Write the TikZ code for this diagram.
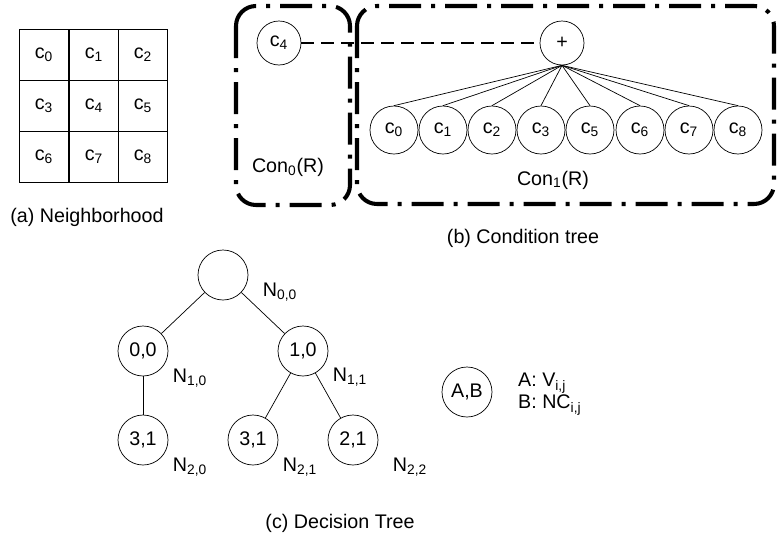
\documentclass[tikz,border=0pt]{standalone}
\usepackage{fontspec}
\setmainfont{Liberation Sans}
\usepackage{tikz}
\usetikzlibrary{positioning}

\begin{document}
\begin{tikzpicture}[x=0.2mm, y=-0.2mm,
          font=\fontsize{11.2}{13}\selectfont,
          cell/.style={draw, line width=0.5pt, shape=rectangle, minimum width=9.94mm, minimum height=10.2mm, inner sep=0pt},
          cnode/.style={draw, thin, shape=circle, minimum size=9.6mm, inner sep=0pt},
          snode/.style={draw, thin, shape=circle, minimum size=8.8mm, inner sep=0pt},
          dnode/.style={draw, thin, shape=circle, minimum size=10mm, inner sep=0pt},
          groupbox/.style={line width=2.3pt, rounded corners=4mm, dash pattern=on 6.4mm off 2mm on 0.8mm off 2mm},
          linkline/.style={line width=1.6pt, dash pattern=on 2.6mm off 1.4mm},
          treeedge/.style={thin}
        ]
          \useasboundingbox (0,0) rectangle (777,543);

          % (a) neighborhood
          \node[cell] (g0) at (44, 55) {c\textsubscript{0}};
          \node[cell] (g1) at (94, 55) {c\textsubscript{1}};
          \node[cell] (g2) at (143, 55) {c\textsubscript{2}};
          \node[cell] (g3) at (44, 106) {c\textsubscript{3}};
          \node[cell] (g4) at (94, 106) {c\textsubscript{4}};
          \node[cell] (g5) at (143, 106) {c\textsubscript{5}};
          \node[cell] (g6) at (44, 157) {c\textsubscript{6}};
          \node[cell] (g7) at (94, 157) {c\textsubscript{7}};
          \node[cell] (g8) at (143, 157) {c\textsubscript{8}};
          \node (capa) at (87, 217) {(a) Neighborhood};

          % (b) condition tree
          \draw[groupbox] (236, 6) rectangle (350, 205);
          \draw[groupbox] (357, 6) rectangle (774, 204);
          \node[snode] (c4) at (279, 43) {c\textsubscript{4}};
          \node[snode] (plus) at (562, 43) {+};
          \node[cnode] (c0) at (394, 130) {c\textsubscript{0}};
          \node[cnode] (c1) at (443, 130) {c\textsubscript{1}};
          \node[cnode] (c2) at (492, 130) {c\textsubscript{2}};
          \node[cnode] (c3) at (541, 130) {c\textsubscript{3}};
          \node[cnode] (c5) at (590, 130) {c\textsubscript{5}};
          \node[cnode] (c6) at (640, 130) {c\textsubscript{6}};
          \node[cnode] (c7) at (689, 130) {c\textsubscript{7}};
          \node[cnode] (c8) at (738, 130) {c\textsubscript{8}};
          \node (con0) at (288, 167) {Con\textsubscript{0}(R)};
          \node (con1) at (553, 180) {Con\textsubscript{1}(R)};
          \node (capb) at (523, 238) {(b) Condition tree};

          \draw[linkline] (c4) -- (plus);
          \draw[treeedge] (plus.south) -- (c0.north);
          \draw[treeedge] (plus.south) -- (c1.north);
          \draw[treeedge] (plus.south) -- (c2.north);
          \draw[treeedge] (plus.south) -- (c3.north);
          \draw[treeedge] (plus.south) -- (c5.north);
          \draw[treeedge] (plus.south) -- (c6.north);
          \draw[treeedge] (plus.south) -- (c7.north);
          \draw[treeedge] (plus.south) -- (c8.north);

          % (c) decision tree
          \node[dnode] (root) at (223, 275) {};
          \node[dnode] (n10) at (143, 351) {0,0};
          \node[dnode] (n11) at (303, 351) {1,0};
          \node[dnode] (n20) at (143, 440) {3,1};
          \node[dnode] (n21) at (253, 440) {3,1};
          \node[dnode] (n22) at (353, 440) {2,1};
          \node (l00) at (280, 292) {N\textsubscript{0,0}};
          \node (l10) at (190, 378) {N\textsubscript{1,0}};
          \node (l11) at (350, 377) {N\textsubscript{1,1}};
          \node (l20) at (190, 467) {N\textsubscript{2,0}};
          \node (l21) at (300, 467) {N\textsubscript{2,1}};
          \node (l22) at (410, 467) {N\textsubscript{2,2}};
          \node[dnode] (ab) at (467, 392) {A,B};
          \node[anchor=west, align=left, font=\fontsize{11.2}{12.5}\selectfont] (key) at (512, 394) {A: V\textsubscript{i,j}\\B: NC\textsubscript{i,j}};
          \node (capc) at (340, 523) {(c) Decision Tree};

          \draw[treeedge] (root) -- (n10);
          \draw[treeedge] (root) -- (n11);
          \draw[treeedge] (n10) -- (n20);
          \draw[treeedge] (n11) -- (n21);
          \draw[treeedge] (n11) -- (n22);
        \end{tikzpicture}
\end{document}
